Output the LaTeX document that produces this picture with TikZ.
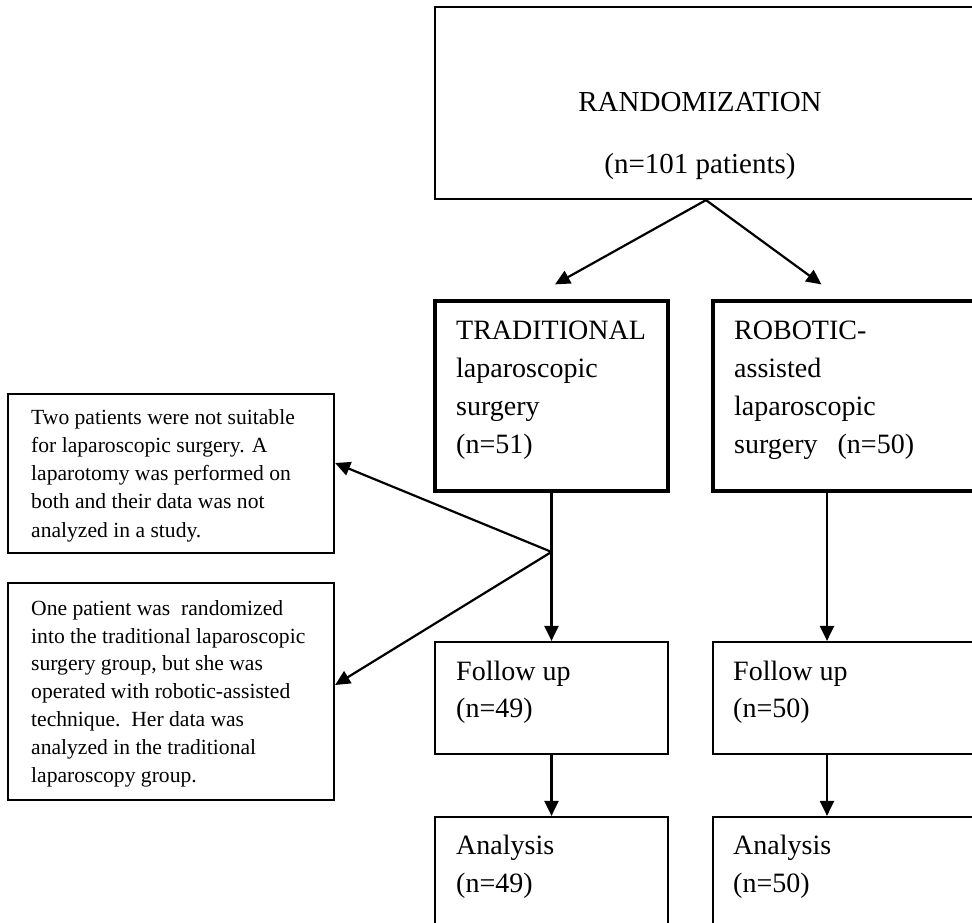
\documentclass[tikz,border=0pt]{standalone}
\usepackage{fontspec}
\setmainfont{Liberation Serif}
\usetikzlibrary{arrows.meta,calc}
\begin{document}
\begin{tikzpicture}[x=1pt,y=-1pt,
  box/.style={draw=black,line width=2.2pt,inner sep=0pt,rectangle},
  thickbox/.style={box,line width=3.2pt},
  bigtxt/.style={inner sep=0pt,anchor=north west,align=left,font=\fontsize{28}{38}\selectfont},
  smalltxt/.style={inner sep=0pt,anchor=north west,align=left,font=\fontsize{21.6}{28.2}\selectfont},
  conn/.style={line width=2.2pt,draw=black},
  arr/.style={conn,-{Triangle[length=15pt,width=14pt]}}]
\useasboundingbox (0,0) rectangle (972,923);
\clip (0,0) rectangle (972,923);
% boxes
\node[box,minimum width=542pt,minimum height=192pt] (top) at (706,103) {};
\node[thickbox,minimum width=233pt,minimum height=190pt] (trad) at (551.5,396) {};
\node[thickbox,minimum width=267pt,minimum height=190pt] (rob) at (846.5,396) {};
\node[box,minimum width=233pt,minimum height=112pt] (fu1) at (551.5,698) {};
\node[box,minimum width=267pt,minimum height=112pt] (fu2) at (846.5,698) {};
\node[box,minimum width=233pt,minimum height=130pt] (an1) at (551.5,882) {};
\node[box,minimum width=267pt,minimum height=130pt] (an2) at (846.5,882) {};
\node[box,minimum width=326pt,minimum height=159pt] (b1) at (171,473.5) {};
\node[box,minimum width=326pt,minimum height=217pt] (b2) at (171,691.5) {};
% texts
\node[inner sep=0pt,anchor=north,align=center,font=\fontsize{29}{62}\selectfont] (toptxt) at (700,90) {\rule{0pt}{21pt}RANDOMIZATION\\(n=101 patients)};
\node[bigtxt] (tradtxt) at (456,318) {\rule{0pt}{21pt}TRADITIONAL\\laparoscopic\\surgery\\(n=51)};
\node[bigtxt] (robtxt) at (734,318) {\rule{0pt}{21pt}ROBOTIC-\\assisted\\laparoscopic\\surgery\hspace{20pt}(n=50)};
\node[bigtxt,font=\fontsize{28}{37}\selectfont] (fu1txt) at (456,659) {\rule{0pt}{21pt}Follow up\\(n=49)};
\node[bigtxt,font=\fontsize{28}{37}\selectfont] (fu2txt) at (733,659) {\rule{0pt}{21pt}Follow up\\(n=50)};
\node[bigtxt,font=\fontsize{28}{38}\selectfont] (an1txt) at (456,833) {\rule{0pt}{21pt}Analysis\\(n=49)};
\node[bigtxt,font=\fontsize{28}{38}\selectfont] (an2txt) at (733,833) {\rule{0pt}{21pt}Analysis\\(n=50)};
\node[smalltxt] (b1txt) at (31,408) {\rule{0pt}{16pt}Two patients were not suitable\\for laparoscopic surgery. A\\laparotomy was performed on\\both and their data was not\\analyzed in a study.};
\node[smalltxt,font=\fontsize{21.6}{27.8}\selectfont] (b2txt) at (31,599) {\rule{0pt}{16pt}One patient was\ \ randomized\\into the traditional laparoscopic\\surgery group, but she was\\operated with robotic-assisted\\technique.\ \ Her data was\\analyzed in the traditional\\laparoscopy group.};
% connectors
\coordinate (J) at ($(trad.south)!0.4!(fu1.north)$);
\coordinate (rx) at (827,0);
\draw[arr] (top.south) -- ($(trad.north)+(3.5,-15)$);
\draw[arr] (top.south) -- ($(rob.north west)+(110,-15)$);
\draw[arr] (trad.south) -- (fu1.north);
\draw[arr] (J) -- ($(b1.east)+(0,-10.5)$);
\draw[arr] (J) -- ($(b2.east)+(0,-6.5)$);
\draw[arr] (rx |- rob.south) -- (rx |- fu2.north);
\draw[arr] (fu1.south) -- (an1.north);
\draw[arr] (rx |- fu2.south) -- (rx |- an2.north);
\end{tikzpicture}
\end{document}
